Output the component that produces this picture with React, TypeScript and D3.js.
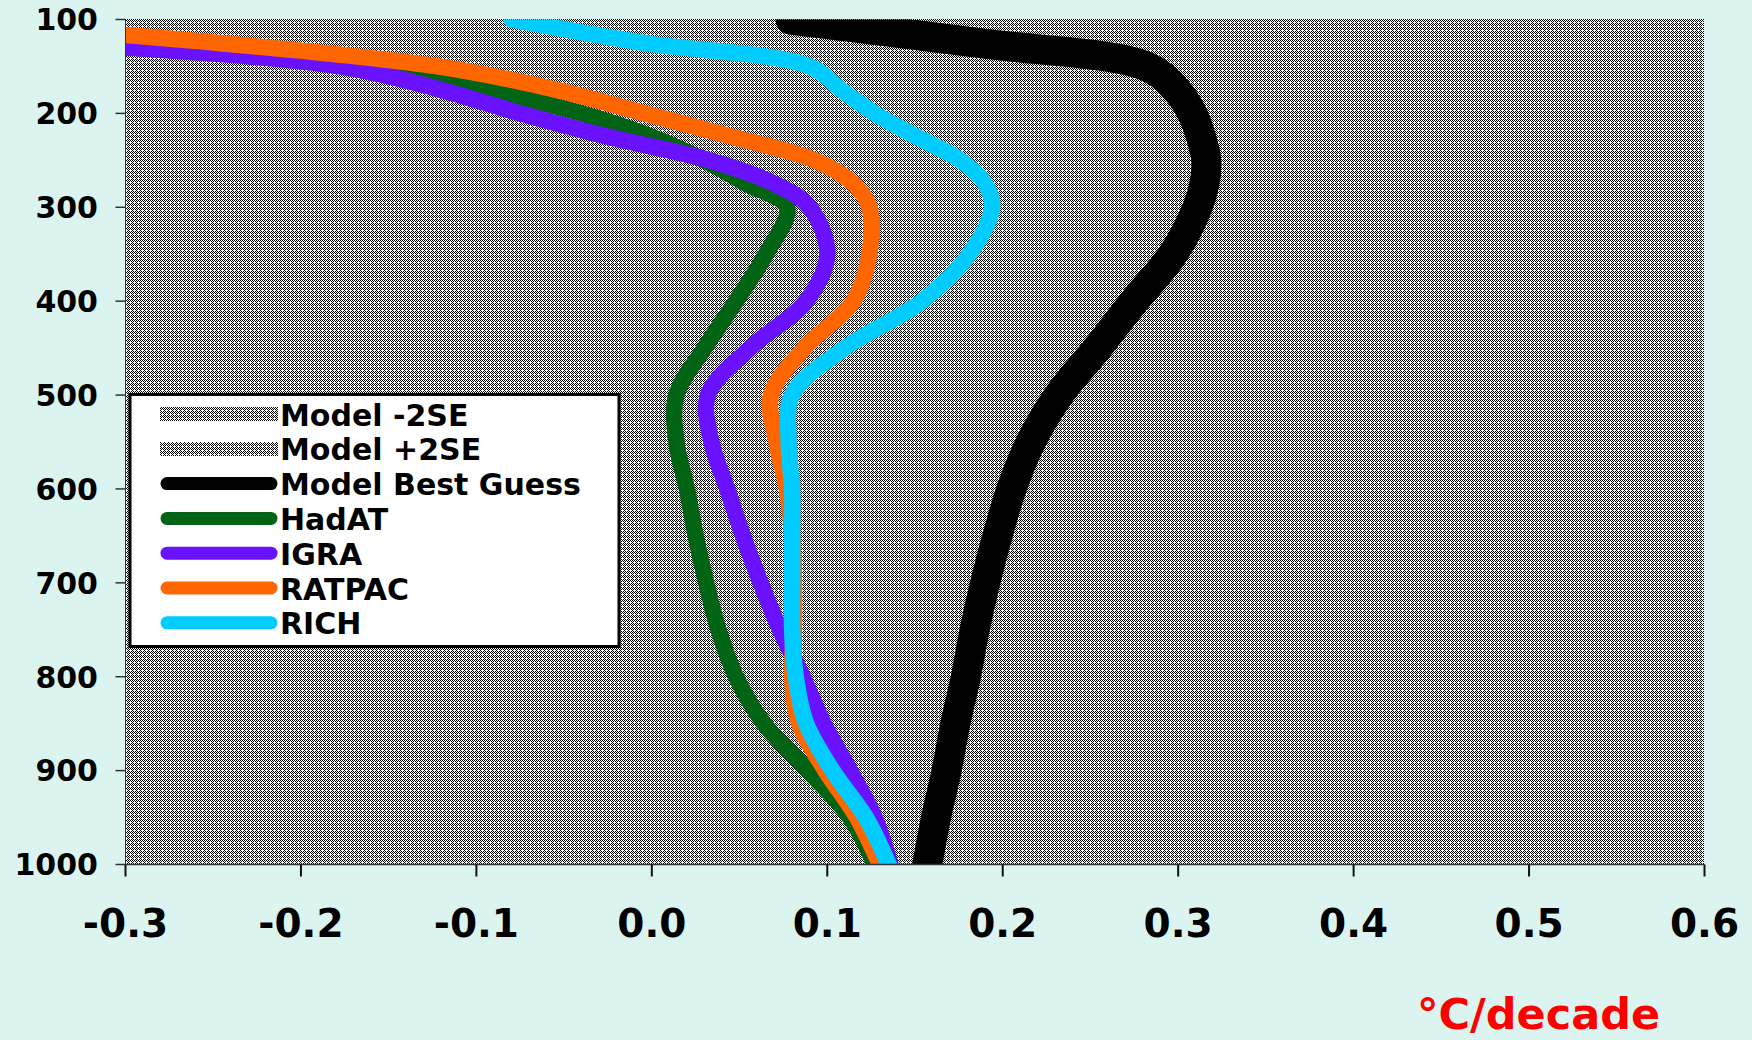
import React from 'react';
import * as d3 from 'd3';

// pressure levels (hPa) and trends (°C/decade)
const levels = [100, 125, 150, 175, 200, 225, 250, 275, 300, 350, 400, 450, 500, 550, 600, 650, 700, 750, 800, 850, 900, 950, 1000];
const modelBest = [0.079, 0.186, 0.282, 0.299, 0.308, 0.313, 0.316, 0.315, 0.311, 0.297, 0.275, 0.254, 0.232, 0.216, 0.205, 0.197, 0.19, 0.184, 0.179, 0.173, 0.168, 0.162, 0.157];
const hadat = [-0.47, -0.31, -0.17, -0.095, -0.04, 0.0, 0.03, 0.054, 0.077, 0.065, 0.048, 0.03, 0.014, 0.014, 0.02, 0.025, 0.031, 0.038, 0.048, 0.064, 0.089, 0.113, 0.127];
const igra = [-0.52, -0.335, -0.178, -0.12, -0.075, -0.025, 0.033, 0.07, 0.09, 0.1, 0.088, 0.056, 0.032, 0.034, 0.043, 0.052, 0.062, 0.073, 0.086, 0.098, 0.113, 0.127, 0.136];
const ratpac = [-0.42, -0.247, -0.122, -0.054, -0.004, 0.046, 0.093, 0.115, 0.124, 0.124, 0.115, 0.087, 0.068, 0.071, 0.077, 0.08, 0.081, 0.081, 0.08, 0.084, 0.099, 0.117, 0.13];
const rich = [-0.08, -0.005, 0.09, 0.108, 0.127, 0.151, 0.176, 0.19, 0.194, 0.181, 0.154, 0.11, 0.08, 0.078, 0.08, 0.08, 0.08, 0.08, 0.082, 0.088, 0.103, 0.122, 0.135];

const xTicks = [-0.3, -0.2, -0.1, 0.0, 0.1, 0.2, 0.3, 0.4, 0.5, 0.6];
const yTicks = [100, 200, 300, 400, 500, 600, 700, 800, 900, 1000];

const legendNames = ['Model -2SE', 'Model +2SE', 'Model Best Guess', 'HadAT', 'IGRA', 'RATPAC', 'RICH'];
const legendColors = ['pattern', 'pattern', '#000000', '#006414', '#6a11ff', '#ff6600', '#00ccff'];

const W = 1752;
const H = 1040;
const FONT = "Verdana, 'DejaVu Sans', sans-serif";

export default function App() {
  const x = d3.scaleLinear().domain([-0.3, 0.6]).range([125.5, 1704.5]);
  const y = d3.scaleLinear().domain([100, 1000]).range([19.5, 864.5]);

  const line = d3.line<number>()
    .x(d => x(d))
    .y((d, i) => y(levels[i]))
    .curve(d3.curveCatmullRom.alpha(0.5));

  // drawn in Excel series order, RICH ends on top
  const series = [
    { values: modelBest, color: '#000000', width: 30 },
    { values: hadat, color: '#006414', width: 16.5 },
    { values: igra, color: '#6a11ff', width: 16.5 },
    { values: ratpac, color: '#ff6600', width: 16.5 },
    { values: rich, color: '#00ccff', width: 16.5 },
  ];

  const [x0, x1] = x.range();
  const [y0, y1] = y.range();

  return (
    <svg width={W} height={H} style={{ position: 'absolute', left: 0, top: 0, background: '#dcf4f0' }}>
      <defs>
        <pattern id="dots" width={4} height={4} patternUnits="userSpaceOnUse">
          <rect width={4} height={4} fill="#ffffff" />
          <g fill="#000000" shapeRendering="crispEdges">
            <rect x={0} y={0} width={1} height={1} />
            <rect x={2} y={0} width={1} height={1} />
            <rect x={1} y={1} width={1} height={1} />
            <rect x={3} y={1} width={1} height={1} />
            <rect x={0} y={2} width={1} height={1} />
            <rect x={1} y={3} width={1} height={1} />
            <rect x={3} y={3} width={1} height={1} />
          </g>
        </pattern>
        <clipPath id="plot">
          <rect x={x0} y={y0} width={x1 - x0} height={y1 - y0} />
        </clipPath>
      </defs>

      <rect x={Math.floor(x0)} y={Math.floor(y0)} width={Math.ceil(x1 - x0)} height={Math.ceil(y1 - y0)} fill="url(#dots)" />

      <g clipPath="url(#plot)" fill="none" strokeLinecap="round" strokeLinejoin="round">
        {series.map((s, i) => (
          <path key={i} d={line(s.values) || ''} stroke={s.color} strokeWidth={s.width} />
        ))}
      </g>

      {/* axes */}
      <line x1={x0} x2={x0} y1={y0} y2={y1} stroke="#333" strokeWidth={1} />
      <line x1={x0} x2={x1} y1={y1} y2={y1} stroke="#333" strokeWidth={1.5} />
      {yTicks.map(t => (
        <g key={t}>
          <line x1={x0 - 10} x2={x0} y1={y(t)} y2={y(t)} stroke="#333" strokeWidth={1.5} />
          <text x={98} y={y(t)} dy="0.36em" textAnchor="end" fontFamily={FONT} fontWeight="bold" fontSize={30} fill="#000">
            {t}
          </text>
        </g>
      ))}
      {xTicks.map(t => (
        <g key={t}>
          <line x1={x(t)} x2={x(t)} y1={y1} y2={y1 + 12} stroke="#111" strokeWidth={2} />
          <text x={x(t)} y={937} textAnchor="middle" fontFamily={FONT} fontWeight="bold" fontSize={39} fill="#000">
            {t.toFixed(1)}
          </text>
        </g>
      ))}

      <text x={1417} y={1029} fontFamily={FONT} fontWeight="bold" fontSize={43} fill="#ff0000">°C/decade</text>

      {/* legend */}
      <g>
        <rect x={130} y={394.5} width={489} height={252} fill="#ffffff" stroke="#000" strokeWidth={3} />
        {legendNames.map((name, i) => {
          const cy = 414 + i * 34.8;
          const c = legendColors[i];
          return (
            <g key={name}>
              {c === 'pattern' ? (
                <rect x={160} y={Math.round(cy - 7)} width={118} height={14} fill="url(#dots)" />
              ) : (
                <line x1={167} x2={271} y1={cy} y2={cy} stroke={c} strokeWidth={13} strokeLinecap="round" />
              )}
              <text x={280} y={cy + 11.5} fontFamily={FONT} fontWeight="bold" fontSize={30} fill="#000">{name}</text>
            </g>
          );
        })}
      </g>
    </svg>
  );
}
